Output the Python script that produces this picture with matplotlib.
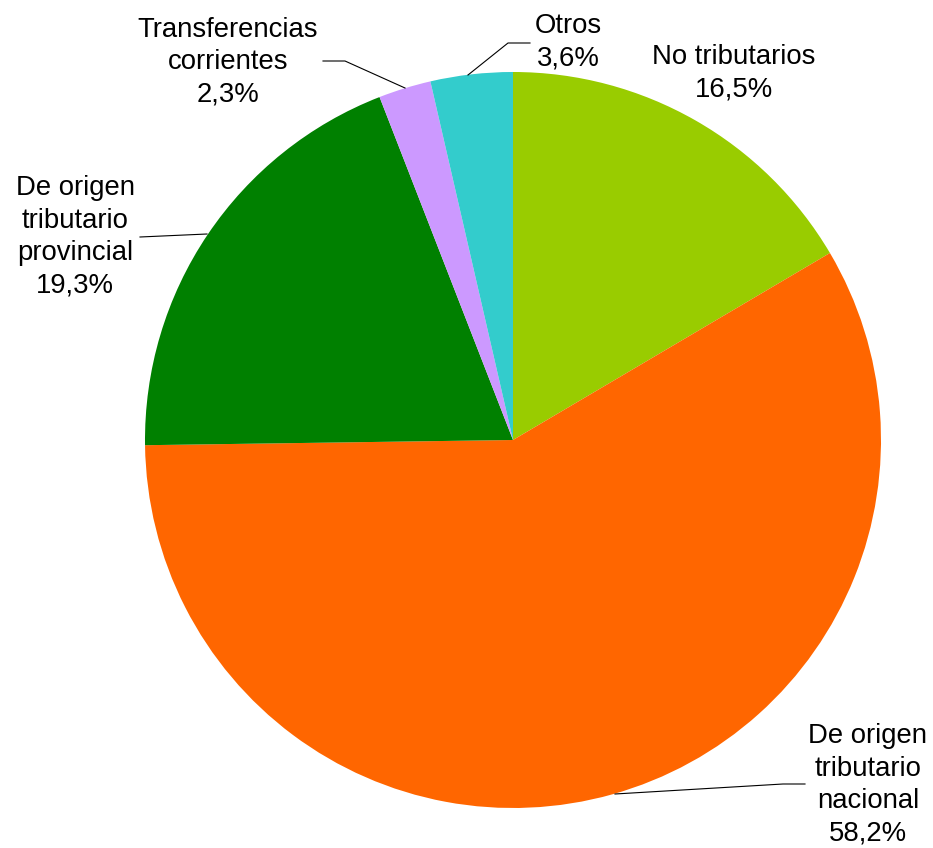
import matplotlib
matplotlib.use("Agg")
import matplotlib.pyplot as plt

categories = ["No tributarios", "De origen\ntributario\nnacional", "De origen\ntributario\nprovincial",
              "Transferencias\ncorrientes", "Otros"]
values = [16.5, 58.2, 19.3, 2.3, 3.6]
colors = ["#99CC00", "#FF6600", "#008000", "#CC99FF", "#33CCCC"]
pct_labels = ["16,5%", "58,2%", "19,3%", "2,3%", "3,6%"]

W, H = 933, 848
fig = plt.figure(figsize=(W / 100, H / 100), dpi=100)
ax = fig.add_axes([0, 0, 1, 1])
ax.set_xlim(0, W)
ax.set_ylim(0, H)
ax.axis("off")

cx, cy, r = 513, H - 440, 368
ax.pie(values, colors=colors, startangle=90, counterclock=False,
       center=(cx, cy), radius=r, frame=True,
       wedgeprops=dict(linewidth=0))
ax.set_xlim(0, W)
ax.set_ylim(0, H)
ax.set_aspect("equal")
ax.axis("off")

font = dict(family=["Liberation Sans", "DejaVu Sans"], fontsize=19.8, color="black",
            ha="center", va="center", linespacing=1.32)

# label positions (pixel coords, y from top)
label_pos = [(734, 73), (868, 785), (75, 237), (228, 62), (568, 42)]
leaders = [
    None,
    [(615, 794), (783, 784), (805, 784)],
    [(207, 234), (140, 237)],
    [(405, 88), (345, 61), (323, 61)],
    [(468, 75), (508, 43), (530, 43)],
]

for cat, pct, (lx, ly), ld in zip(categories, pct_labels, label_pos, leaders):
    ax.text(lx, H - ly, f"{cat}\n{pct}", **font)
    if ld:
        xs = [p[0] for p in ld]
        ys = [H - p[1] for p in ld]
        ax.plot(xs, ys, color="black", lw=0.8)

fig.savefig("out.png", dpi=100)
